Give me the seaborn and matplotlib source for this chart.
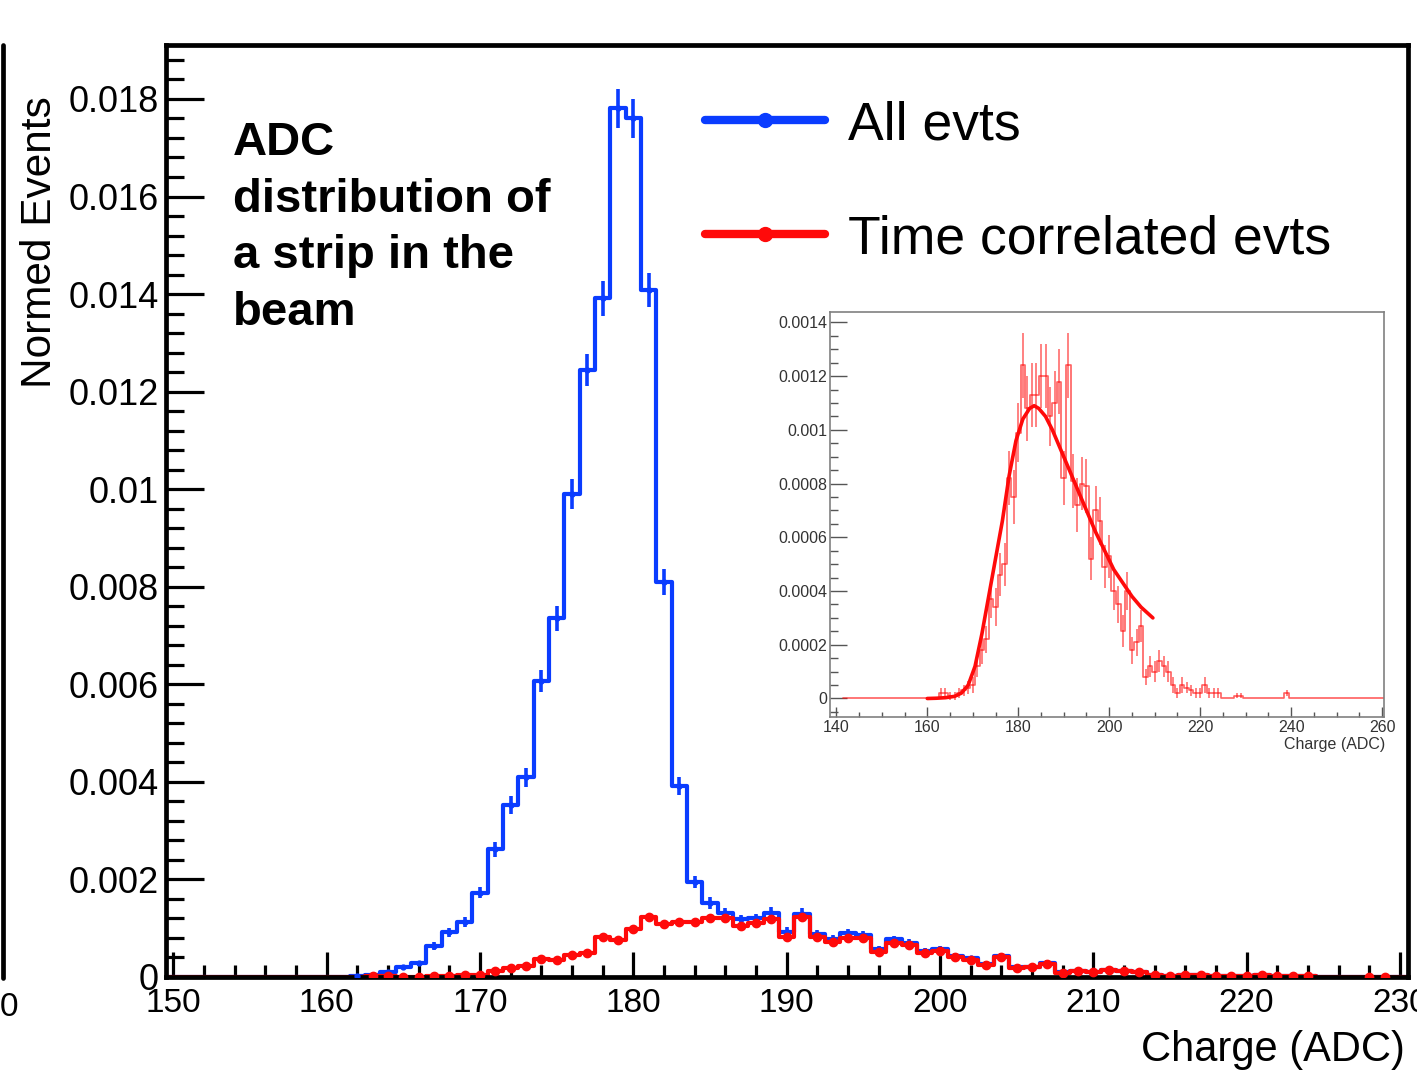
import numpy as np
import pandas as pd
import matplotlib
matplotlib.use("Agg")
import matplotlib.pyplot as plt
import seaborn as sns
from matplotlib.lines import Line2D
from matplotlib.ticker import MultipleLocator, FixedLocator, FixedFormatter

# ---------------- data ----------------
# main histogram: 1-ADC bins centred on integers 150..230
main_bins = list(range(150, 231))
all_evts = ([0.0] * 12 +
            [0.00002, 0.00004, 0.00011, 0.00021, 0.00028, 0.00064, 0.00092, 0.00113,
             0.00173, 0.00262, 0.00353, 0.00409, 0.00607, 0.00735, 0.0099, 0.01244, 0.01391, 0.01781,
             0.0176, 0.01408, 0.0081, 0.00392, 0.00195, 0.00152, 0.00131, 0.00118, 0.0012, 0.00132,
             0.00093, 0.0013, 0.00088, 0.00078, 0.0009, 0.00086, 0.00057, 0.00077, 0.0007, 0.00053,
             0.00057, 0.00043, 0.00038, 0.00027, 0.00043, 0.0002, 0.0002, 0.00029, 0.00011, 0.00013,
             0.0001, 0.00015, 0.00012, 0.0001, 0.00005, 0.00002, 0.00004, 0.00004, 0.00003, 0.00002,
             0.00002, 0.00004, 0.00002, 0.00002, 0.00002, 0.0, 0.0, 0.0, 0.00001, 0.00001, 0.0])
all_err = ([0.0] * 12 +
           [0.00001, 0.00002, 0.00003, 0.00004, 0.00005, 0.00008, 0.00009, 0.0001,
            0.00012, 0.00015, 0.00018, 0.00019, 0.00023, 0.00026, 0.0003, 0.00033, 0.00035, 0.0004,
            0.0004, 0.00035, 0.00027, 0.00019, 0.00013, 0.00012, 0.00011, 0.0001, 0.0001, 0.00011,
            0.00009, 0.00011, 0.00009, 0.00008, 0.00009, 0.00009, 0.00007, 0.00008, 0.00008, 0.00007,
            0.00007, 0.00006, 0.00006, 0.00005, 0.00006, 0.00004, 0.00004, 0.00005, 0.00003, 0.00003,
            0.00003, 0.00004, 0.00003, 0.00003, 0.00002, 0.00001, 0.00002, 0.00002, 0.00002, 0.00001,
            0.00001, 0.00002, 0.00001, 0.00001, 0.00001, 0.0, 0.0, 0.0, 0.00001, 0.00001, 0.0])

# time-correlated events: bins 142..260 (shown 150..230 in main, 142..260 in inset)
time_bins = list(range(142, 261))
time_corr = ([0.0] * 21 +
             [0.00002, 0.00002, 0.00001, 0.00001, 0.00002, 0.00003, 0.00004,
              0.00005, 0.00012, 0.00018, 0.00022, 0.00037, 0.00034, 0.00046, 0.0005, 0.00082, 0.00075,
              0.00099, 0.00124, 0.00108, 0.00113, 0.00113, 0.0012, 0.0012, 0.00105, 0.0011, 0.00118,
              0.00082, 0.00124, 0.00081, 0.00072, 0.0008, 0.00079, 0.00052, 0.0007, 0.00066, 0.00049,
              0.00053, 0.0004, 0.00035, 0.00025, 0.0004, 0.00018, 0.00021, 0.00027, 0.00008, 0.00012,
              0.0001, 0.00014, 0.00012, 0.0001, 0.00005, 0.00002, 0.00005, 0.00004, 0.00003, 0.00002,
              0.00002, 0.00005, 0.00002, 0.00002, 0.00002, 0.0, 0.0, 0.0, 0.00001, 0.00001] +
             [0.0] * 9 + [0.00002] + [0.0] * 21)
time_err_inset = ([0.0] * 21 +
                  [0.00002, 0.00002, 0.000015, 0.000015, 0.00002, 0.00002, 0.000025,
                   0.00003, 0.00004, 0.00005, 0.00005, 0.00007, 0.00007, 0.00008, 0.00008, 0.0001, 0.0001,
                   0.00011, 0.00012, 0.00012, 0.00012, 0.00012, 0.00012, 0.00012, 0.00011, 0.00012, 0.00012,
                   0.0001, 0.00012, 0.0001, 0.0001, 0.0001, 0.0001, 0.00008, 0.00009, 0.00009, 0.00008,
                   0.00008, 0.00007, 0.00007, 0.00006, 0.00007, 0.00005, 0.00005, 0.00006, 0.00003, 0.00004,
                   0.00004, 0.00004, 0.00004, 0.00004, 0.00003, 0.00002, 0.00003, 0.00002, 0.00002, 0.00002,
                   0.00002, 0.00003, 0.00002, 0.00002, 0.00002, 0.0, 0.0, 0.0, 0.00001, 0.00001] +
                  [0.0] * 9 + [0.00001] + [0.0] * 21)

# fit curve points
fit_x = [160, 162, 164, 166, 167.5, 169, 170.5, 172, 173.5, 175, 176.5, 178, 179.5, 181,
         182.5, 183.5, 184.5, 186, 187.5, 189, 190.5, 192, 193.5, 195, 197, 199, 201, 203,
         205, 207, 209.6]
fit_y = [0.0, 0.000001, 0.000003, 0.000008, 0.00002, 0.00005, 0.00012, 0.00024, 0.00038,
         0.00052, 0.00066, 0.00083, 0.00096, 0.00104, 0.00108, 0.00109, 0.00108, 0.00105,
         0.001, 0.00094, 0.00088, 0.00082, 0.00076, 0.0007, 0.00062, 0.00055, 0.00048,
         0.00043, 0.00038, 0.00034, 0.0003]

main_xticks = [150, 160, 170, 180, 190, 200, 210, 220, 230]
main_yticks = [0, 0.002, 0.004, 0.006, 0.008, 0.01, 0.012, 0.014, 0.016, 0.018]
main_ylabels = ['0', '0.002', '0.004', '0.006', '0.008', '0.01', '0.012', '0.014', '0.016', '0.018']
inset_xticks = [140, 160, 180, 200, 220, 240, 260]
inset_yticks = [0, 0.0002, 0.0004, 0.0006, 0.0008, 0.001, 0.0012, 0.0014]
inset_ylabels = ['0', '0.0002', '0.0004', '0.0006', '0.0008', '0.001', '0.0012', '0.0014']

# ---------------- styling ----------------
sns.set_theme(style="white")
plt.rcParams['font.family'] = ['Liberation Sans', 'DejaVu Sans']
plt.rcParams['text.color'] = 'black'
plt.rcParams['axes.labelcolor'] = 'black'
plt.rcParams['xtick.color'] = 'black'
plt.rcParams['ytick.color'] = 'black'

BLUE = '#0a3cff'
RED = '#ff0a0a'
W, H = 1417, 1079
fig = plt.figure(figsize=(W / 100, H / 100), dpi=100)


def fx(px):
    return px / W


def fy(py):
    return 1 - py / H


# ---------------- main axes ----------------
ax = fig.add_axes([fx(165.7), fy(977), fx(1407.6) - fx(165.7), fy(45.3) - fy(977)])

df_all = pd.DataFrame({'charge': main_bins, 'w': all_evts, 'e': all_err})
df_time = pd.DataFrame({'charge': time_bins, 'w': time_corr, 'e': time_err_inset})
df_time_main = df_time[(df_time.charge >= 150) & (df_time.charge <= 230)]
df_all_nz = df_all[df_all.w > 0]
df_time_nz = df_time_main[df_time_main.w > 0]

sns.histplot(data=df_all, x='charge', weights='w', binwidth=1, binrange=(149.5, 230.5),
             element='step', fill=False, color=BLUE, linewidth=3.0, ax=ax)
ax.errorbar(df_all_nz.charge, df_all_nz.w, yerr=df_all_nz.e, fmt='o', ms=3.5, color=BLUE,
            elinewidth=2.6, capsize=0, zorder=3)
sns.histplot(data=df_time_main, x='charge', weights='w', binwidth=1, binrange=(149.5, 230.5),
             element='step', fill=False, color=RED, linewidth=3.0, ax=ax)
ax.errorbar(df_time_nz.charge, df_time_nz.w, fmt='o', ms=6, color=RED, zorder=4)

ax.set_xlim(149.5, 230.5)
ax.set_ylim(0, 0.0191)
ax.set_xlabel('')
ax.set_ylabel('')
ax.xaxis.set_major_locator(FixedLocator(main_xticks))
ax.xaxis.set_minor_locator(MultipleLocator(2))
ax.yaxis.set_major_locator(FixedLocator(main_yticks))
ax.yaxis.set_major_formatter(FixedFormatter(main_ylabels))
ax.yaxis.set_minor_locator(MultipleLocator(0.0004))
ax.tick_params(axis='x', which='major', direction='in', length=18, width=2.3,
               labelsize=24, pad=8, bottom=True, top=False, color='black', labelcolor='black')
ax.tick_params(axis='x', which='minor', direction='in', length=8.6, width=2.3,
               bottom=True, top=False, color='black')
ax.tick_params(axis='y', which='major', direction='in', length=27, width=2.3,
               labelsize=26, pad=5, left=True, right=False, color='black', labelcolor='black')
ax.tick_params(axis='y', which='minor', direction='in', length=13, width=2.3,
               left=True, right=False, color='black')
for s in ax.spines.values():
    s.set_color('black')
    s.set_linewidth(3.4)

fig.text(fx(40), fy(242), 'Normed Events', rotation=90, ha='center', va='center',
         fontsize=30.5, color='black')
fig.text(fx(1405), fy(1050), 'Charge (ADC)', ha='right', va='center', fontsize=30,
         color='black')

fig.text(fx(233), fy(121), 'ADC\ndistribution of\na strip in the\nbeam', ha='left', va='top',
         fontsize=34, fontweight='bold', linespacing=1.37, color='black')

handles = [Line2D([], [], color=BLUE, lw=6, marker='o', ms=10),
           Line2D([], [], color=RED, lw=6, marker='o', ms=10)]
fig.legend(handles, ['All evts', 'Time correlated evts'], loc='upper left',
           bbox_to_anchor=(fx(705), fy(100)), frameon=False, fontsize=38.5,
           handlelength=2.25, handletextpad=0.42, labelspacing=1.2, borderpad=0,
           borderaxespad=0, numpoints=1, labelcolor='black')

# partial neighbouring panel at the left edge
fig.add_artist(Line2D([fx(3), fx(3)], [fy(45), fy(978)], color='black', lw=3.4))
fig.text(fx(9), fy(1007), '0', ha='center', va='center', fontsize=24, color='black')

# ---------------- inset ----------------
axi = fig.add_axes([fx(830.4), fy(717.3), fx(1383.5) - fx(830.4), fy(311.7) - fy(717.3)],
                   zorder=5)
axi.set_facecolor('white')
sns.histplot(data=df_time, x='charge', weights='w', binwidth=1, binrange=(141.5, 260.5),
             element='step', fill=False, color=RED, alpha=0.65, linewidth=1.2, ax=axi)
axi.errorbar(df_time.charge, df_time.w, yerr=df_time.e, fmt='none', ecolor=RED,
             elinewidth=1.2, alpha=0.6, capsize=0)
sns.lineplot(x=fit_x, y=fit_y, ax=axi, color=RED, linewidth=2.6, sort=False)
axi.set_xlim(138.7, 260.3)
axi.set_ylim(-0.00007, 0.00144)
axi.set_xlabel('')
axi.set_ylabel('')
axi.xaxis.set_major_locator(FixedLocator(inset_xticks))
axi.xaxis.set_minor_locator(MultipleLocator(5))
axi.yaxis.set_major_locator(FixedLocator(inset_yticks))
axi.yaxis.set_major_formatter(FixedFormatter(inset_ylabels))
axi.yaxis.set_minor_locator(MultipleLocator(0.00005))
axi.tick_params(axis='x', which='major', direction='in', length=7, width=1.0, labelsize=11.5,
                pad=2, bottom=True, top=False, color='#555555', labelcolor='#333333')
axi.tick_params(axis='x', which='minor', direction='in', length=3.5, width=1.0,
                bottom=True, top=False, color='#555555')
axi.tick_params(axis='y', which='major', direction='in', length=12, width=1.0, labelsize=11.5,
                pad=2, left=True, right=False, color='#555555', labelcolor='#333333')
axi.tick_params(axis='y', which='minor', direction='in', length=6, width=1.0,
                left=True, right=False, color='#555555')
for s in axi.spines.values():
    s.set_color('#808080')
    s.set_linewidth(1.2)
fig.text(fx(1385), fy(745), 'Charge (ADC)', ha='right', va='center', fontsize=11.5,
         color='#333333')

fig.text(fx(1121), fy(383), 'μ = 185', ha='left', va='center', fontsize=38, color='black')
fig.text(fx(1121), fy(447), 'σ = 5.35', ha='left', va='center', fontsize=38, color='black')

fig.savefig('out.png', dpi=100)
